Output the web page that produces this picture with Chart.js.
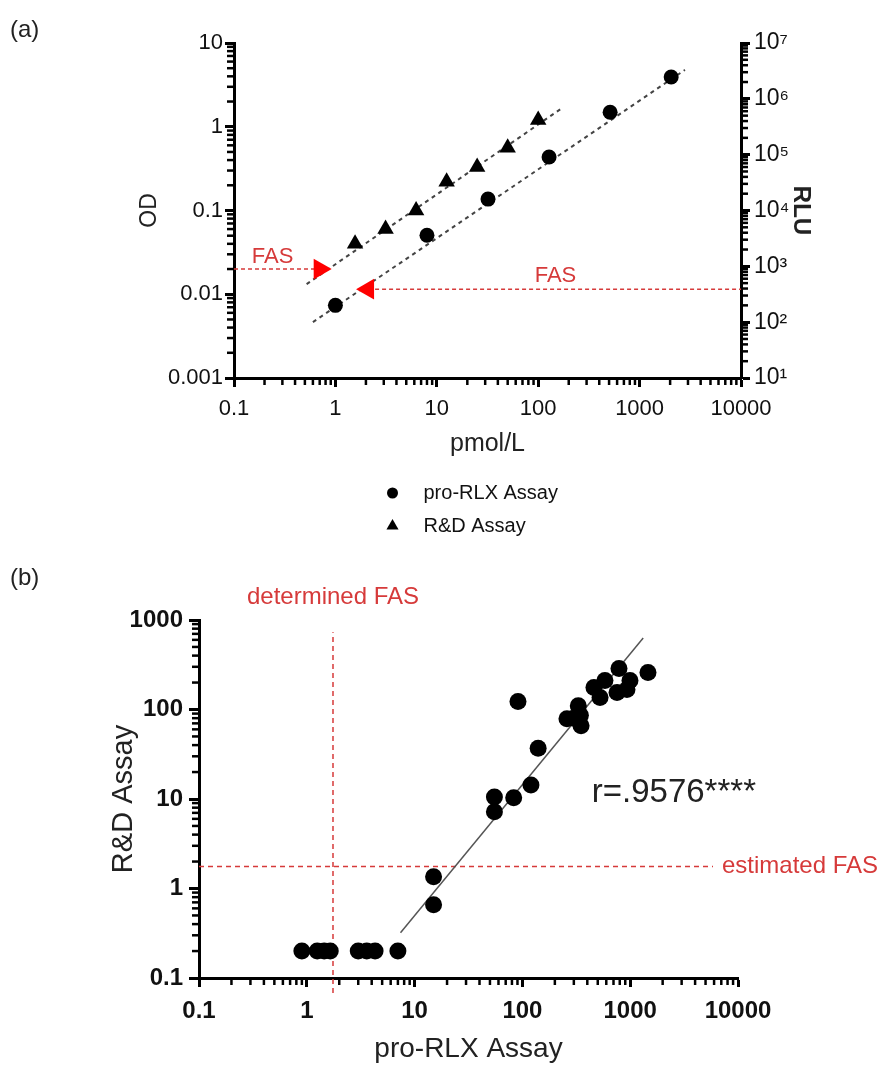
<!DOCTYPE html>
<html>
<head>
<meta charset="utf-8">
<title>pro-RLX and R&amp;D assays</title>
<script src="https://cdn.jsdelivr.net/npm/chart.js@4.4.1/dist/chart.umd.min.js"></script>
<style>
  html, body { margin: 0; padding: 0; background: #fff; }
  body { width: 887px; height: 1066px; position: relative; overflow: hidden; }
  canvas { position: absolute; left: 0; }
  #panelA { top: 0; }
  #panelB { top: 540px; }
</style>
</head>
<body>
<canvas id="panelA" width="887" height="540"></canvas>
<canvas id="panelB" width="887" height="526"></canvas>
<script>
// (a) standard curves
const concRLX = [1, 8, 32, 128, 512, 2048]
const rluRLX = [200, 3600, 16000, 91000, 575000, 2460000]
const concRD = [1.5625, 3.125, 6.25, 12.5, 25, 50, 100]
const odRD = [0.04, 0.06, 0.1, 0.22, 0.33, 0.56, 1.2]

// end points of the fitted lines
const fitRDx = [0.52, 174]
const fitRDy = [0.0132, 1.69]
const fitRLXx = [0.6, 2800]
const fitRLXy = [100, 3300000]

// functional assay sensitivity
const fasOD = 0.02
const fasODconc = 0.7
const fasRLU = 390
const fasRLUconc = 2.1

const pmolTicks = [0.1, 1, 10, 100, 1000, 10000]
const pmolLabels = ['0.1', '1', '10', '100', '1000', '10000']
const odTicks = [0.001, 0.01, 0.1, 1, 10]
const odLabels = ['0.001', '0.01', '0.1', '1', '10']
const rluTicks = [1e1, 1e2, 1e3, 1e4, 1e5, 1e6, 1e7]
const rluLabels = ['10¹', '10²', '10³', '10⁴', '10⁵', '10⁶', '10⁷']

// (b) samples measured with both assays
const proRLX = [0.9, 1.25, 1.45, 1.65, 3.0, 3.6, 4.3, 7.0, 15, 15, 55, 55, 83, 120, 140, 91,
  259, 300, 330, 345, 350, 461, 525, 583, 755, 787, 933, 995, 1462]
const rdAssay = [0.2, 0.2, 0.2, 0.2, 0.2, 0.2, 0.2, 0.2, 1.35, 0.66, 10.5, 7.2, 10.3, 14.3, 37, 123,
  79, 80, 110, 86, 66, 176, 136, 211, 155, 287, 167, 211, 259]
const regX = [7.4, 1320]
const regY = [0.32, 630]
const fasDetermined = 1.75
const fasDeterminedY = [0.068, 730]
const fasEstimated = 1.76
const fasEstimatedX = [0.1, 5860]
const corrText = 'r=.9576****'

const bTicksX = [0.1, 1, 10, 100, 1000, 10000]
const bLabelsX = ['0.1', '1', '10', '100', '1000', '10000']
const bTicksY = [0.1, 1, 10, 100, 1000]
const bLabelsY = ['0.1', '1', '10', '100', '1000']

const FONT = '"Liberation Sans", Arial, sans-serif'
const RED = '#d63a3a'

Chart.defaults.font.family = FONT
Chart.defaults.color = '#111'

const pts = (xs, ys) => xs.map((x, i) => ({ x: x, y: ys[i] }))

function logAxis(o) {
  return {
    type: 'logarithmic',
    position: o.position,
    min: o.ticks[0],
    max: o.ticks[o.ticks.length - 1],
    afterBuildTicks: (s) => { s.ticks = o.ticks.map(v => ({ value: v })) },
    afterFit: (s) => { if (s.isHorizontal()) s.height = o.size; else s.width = o.size },
    border: { display: true, color: '#000', width: 3 },
    grid: { display: true, drawOnChartArea: false, drawTicks: true, tickLength: o.tickLength, tickWidth: 3, tickColor: '#000' },
    ticks: { autoSkip: false, maxRotation: 0, padding: o.padding, color: '#111', font: o.font, callback: (v, i) => o.labels[i] },
    title: { display: true, text: o.title, color: '#222', font: o.titleFont, padding: o.titlePadding }
  }
}

// short ticks at 2..9 of every decade
const minorTicks = {
  id: 'minorTicks',
  afterDraw(chart) {
    const ctx = chart.ctx
    ctx.save()
    ctx.strokeStyle = '#000'
    ctx.lineWidth = 2.5
    Object.values(chart.scales).forEach(scale => {
      const len = 7
      const e0 = Math.floor(Math.log10(scale.min))
      const e1 = Math.ceil(Math.log10(scale.max))
      for (let e = e0; e < e1; e++) {
        for (let k = 2; k <= 9; k++) {
          const v = k * Math.pow(10, e)
          if (v <= scale.min || v >= scale.max) continue
          const p = scale.getPixelForValue(v)
          ctx.beginPath()
          if (scale.position === 'bottom') { ctx.moveTo(p, scale.top); ctx.lineTo(p, scale.top + len) }
          else if (scale.position === 'left') { ctx.moveTo(scale.right, p); ctx.lineTo(scale.right - len, p) }
          else { ctx.moveTo(scale.left, p); ctx.lineTo(scale.left + len, p) }
          ctx.stroke()
        }
      }
    })
    ctx.restore()
  }
}

function marker(ctx, style, x, y, r) {
  ctx.beginPath()
  if (style === 'triangle') {
    ctx.moveTo(x, y - r)
    ctx.lineTo(x + r * 0.866, y + r * 0.5)
    ctx.lineTo(x - r * 0.866, y + r * 0.5)
    ctx.closePath()
  } else {
    ctx.arc(x, y, r, 0, Math.PI * 2)
  }
  ctx.fill()
}

const notesA = {
  id: 'notesA',
  afterDraw(chart) {
    const { ctx, chartArea, scales: { x, y, y2 } } = chart
    ctx.save()
    ctx.fillStyle = '#222'
    ctx.font = '24px ' + FONT
    ctx.textBaseline = 'middle'
    ctx.fillText('(a)', 10, 30)

    ctx.fillStyle = RED
    ctx.font = '22px ' + FONT
    ctx.textAlign = 'center'
    ctx.textBaseline = 'alphabetic'
    ctx.fillText('FAS', x.getPixelForValue(0.24), y.getPixelForValue(fasOD) - 6)
    ctx.fillText('FAS', x.getPixelForValue(148), y2.getPixelForValue(fasRLU) - 7)

    // legend
    const mx = (chartArea.left + chartArea.right) / 2 - 95
    const rows = [
      { text: chart.data.datasets[0].label, style: 'circle', r: 5.5, y: 493 },
      { text: chart.data.datasets[1].label, style: 'triangle', r: 7, y: 526 }
    ]
    ctx.font = '20px ' + FONT
    ctx.textAlign = 'left'
    ctx.textBaseline = 'middle'
    rows.forEach(row => {
      ctx.fillStyle = '#000'
      marker(ctx, row.style, mx, row.y, row.r)
      ctx.fillStyle = '#111'
      ctx.fillText(row.text, mx + 31, row.y)
    })
    ctx.restore()
  }
}

const notesB = {
  id: 'notesB',
  afterDraw(chart) {
    const { ctx, scales: { x, y } } = chart
    ctx.save()
    ctx.fillStyle = '#222'
    ctx.font = '24px ' + FONT
    ctx.textBaseline = 'middle'
    ctx.fillText('(b)', 10, 38)

    ctx.fillStyle = RED
    ctx.font = '24px ' + FONT
    ctx.textAlign = 'center'
    ctx.fillText('determined FAS', x.getPixelForValue(fasDetermined), y.getPixelForValue(1000) - 23)
    ctx.textAlign = 'left'
    ctx.fillText('estimated FAS', x.getPixelForValue(fasEstimatedX[1]) + 9, y.getPixelForValue(fasEstimated))

    ctx.fillStyle = '#222'
    ctx.font = '33px ' + FONT
    ctx.fillText(corrText, x.getPixelForValue(440), y.getPixelForValue(11.7))
    ctx.restore()
  }
}

const lineSet = (data, color, width, dash, axis) => ({
  data: data,
  yAxisID: axis,
  showLine: true,
  borderColor: color,
  borderWidth: width,
  borderDash: dash,
  pointRadius: 0,
  fill: false
})

new Chart(document.getElementById('panelA'), {
  type: 'scatter',
  data: {
    datasets: [
      { label: 'pro-RLX Assay', data: pts(concRLX, rluRLX), yAxisID: 'y2', pointStyle: 'circle', pointRadius: 7.5, backgroundColor: '#000', borderWidth: 0 },
      { label: 'R&D Assay', data: pts(concRD, odRD), yAxisID: 'y', pointStyle: 'triangle', pointRadius: 9.5, backgroundColor: '#000', borderWidth: 0 },
      { data: [{ x: fasODconc, y: fasOD }], yAxisID: 'y', pointStyle: 'triangle', pointRotation: 90, pointRadius: 12, backgroundColor: '#ff0000', borderWidth: 0 },
      { data: [{ x: fasRLUconc, y: fasRLU }], yAxisID: 'y2', pointStyle: 'triangle', pointRotation: -90, pointRadius: 12, backgroundColor: '#ff0000', borderWidth: 0 },
      lineSet(pts(fitRDx, fitRDy), '#444', 2, [4, 4], 'y'),
      lineSet(pts(fitRLXx, fitRLXy), '#444', 2, [4, 4], 'y2'),
      lineSet([{ x: 0.1, y: fasOD }, { x: fasODconc, y: fasOD }], RED, 1.5, [4, 3], 'y'),
      lineSet([{ x: fasRLUconc, y: fasRLU }, { x: 10000, y: fasRLU }], RED, 1.5, [4, 3], 'y2')
    ]
  },
  options: {
    responsive: false,
    animation: false,
    events: [],
    layout: { padding: { top: 43, left: 0, right: 0, bottom: 0 } },
    plugins: { legend: { display: false }, tooltip: { enabled: false } },
    scales: {
      x: logAxis({ position: 'bottom', ticks: pmolTicks, labels: pmolLabels, size: 162, tickLength: 9, padding: 9,
        font: { size: 22 }, title: 'pmol/L', titleFont: { size: 25 }, titlePadding: { top: 0, bottom: 81 } }),
      y: logAxis({ position: 'left', ticks: odTicks, labels: odLabels, size: 234, tickLength: 9, padding: 2,
        font: { size: 22 }, title: 'OD', titleFont: { size: 23 }, titlePadding: { top: 136, bottom: 0 } }),
      y2: logAxis({ position: 'right', ticks: rluTicks, labels: rluLabels, size: 146, tickLength: 9, padding: 4,
        font: { size: 23 }, title: 'RLU', titleFont: { size: 24, weight: 'bold' }, titlePadding: { top: 72, bottom: 0 } })
    }
  },
  plugins: [minorTicks, notesA]
})

new Chart(document.getElementById('panelB'), {
  type: 'scatter',
  data: {
    datasets: [
      { label: 'samples', data: pts(proRLX, rdAssay), pointStyle: 'circle', pointRadius: 8.5, backgroundColor: '#000', borderWidth: 0 },
      lineSet(pts(regX, regY), '#555', 1.5, [], 'y'),
      lineSet(pts(fasEstimatedX, [fasEstimated, fasEstimated]), RED, 1.5, [5, 4], 'y'),
      Object.assign(lineSet(pts([fasDetermined, fasDetermined], fasDeterminedY), RED, 1.5, [5, 4], 'y'), { clip: false })
    ]
  },
  options: {
    responsive: false,
    animation: false,
    events: [],
    layout: { padding: { top: 80, left: 0, right: 149, bottom: 0 } },
    plugins: { legend: { display: false }, tooltip: { enabled: false } },
    scales: {
      x: logAxis({ position: 'bottom', ticks: bTicksX, labels: bLabelsX, size: 88, tickLength: 9, padding: 10,
        font: { size: 24, weight: 'bold' }, title: 'pro-RLX Assay', titleFont: { size: 28 }, titlePadding: { top: 0, bottom: 0 } }),
      y: logAxis({ position: 'left', ticks: bTicksY, labels: bLabelsY, size: 199, tickLength: 10, padding: 6,
        font: { size: 24, weight: 'bold' }, title: 'R&D Assay', titleFont: { size: 29 }, titlePadding: { top: 107, bottom: 0 } })
    }
  },
  plugins: [minorTicks, notesB]
})
</script>
</body>
</html>
